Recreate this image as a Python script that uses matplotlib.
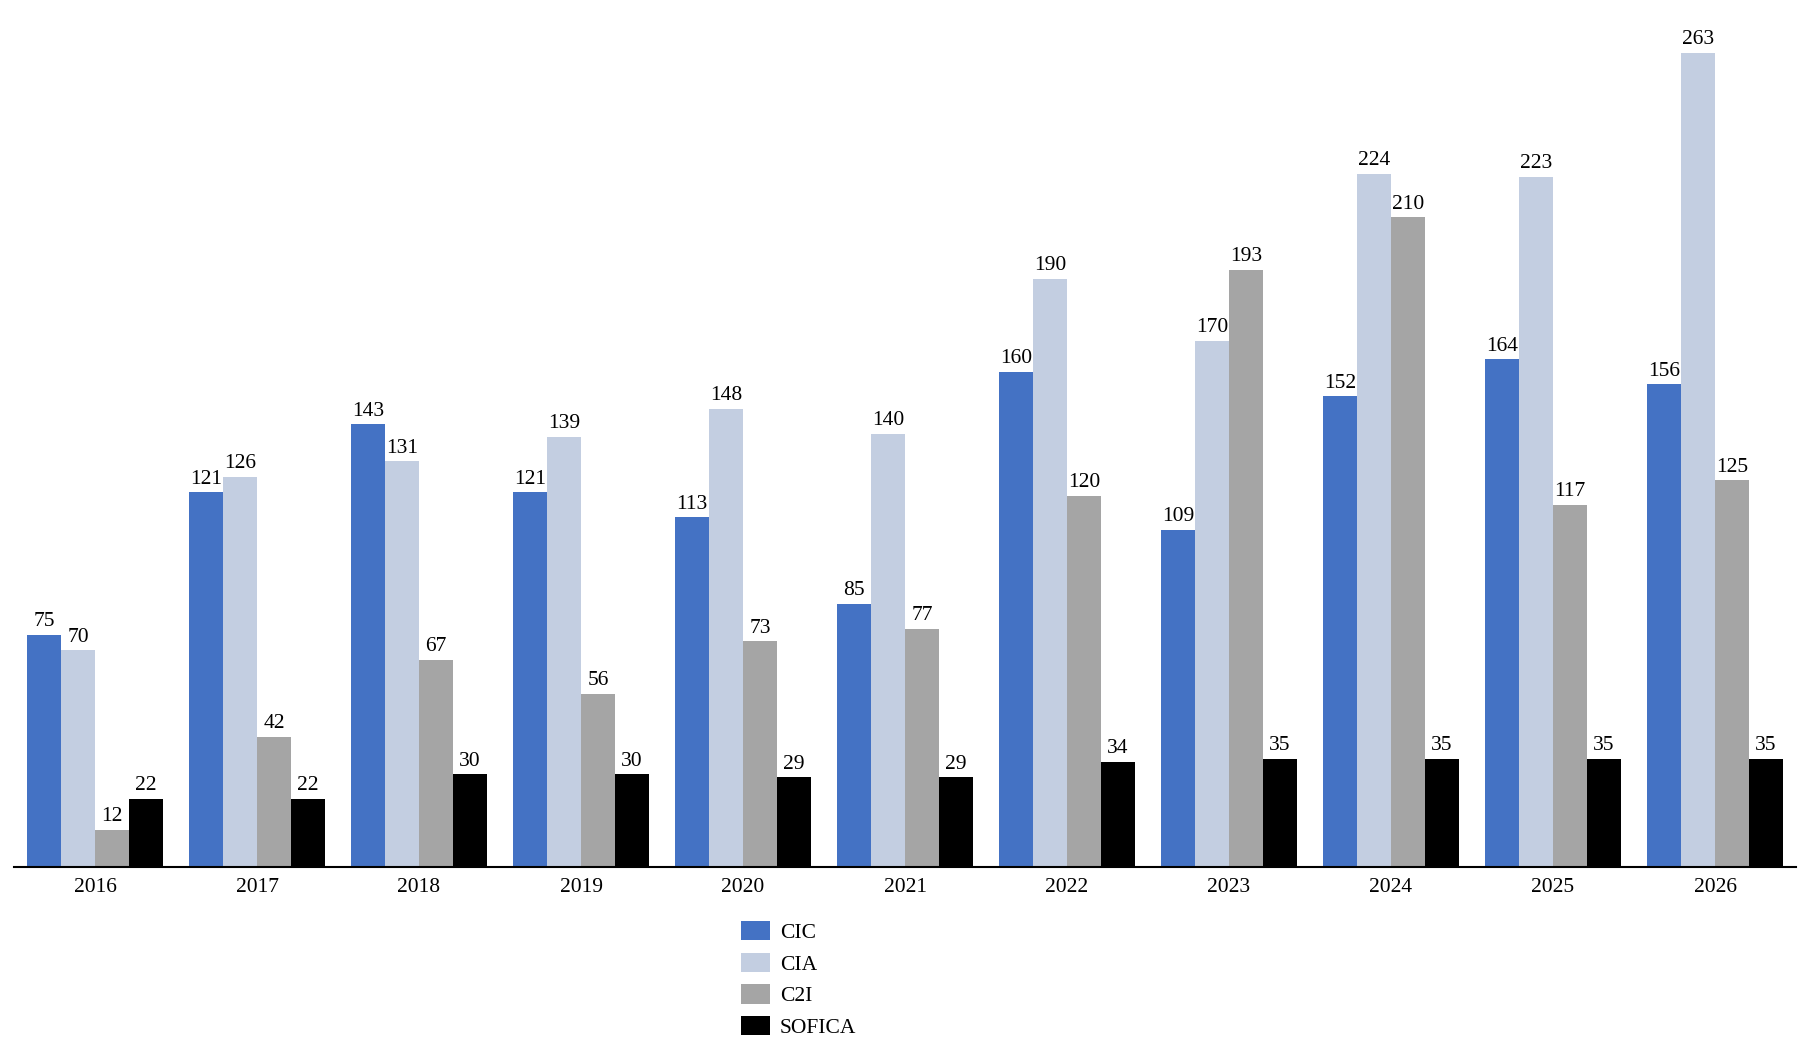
import matplotlib
matplotlib.use("Agg")
import matplotlib.pyplot as plt
import numpy as np

years = ["2016", "2017", "2018", "2019", "2020", "2021", "2022", "2023", "2024", "2025", "2026"]
series_names = ["CIC", "CIA", "C2I", "SOFICA"]
cic = [75, 121, 143, 121, 113, 85, 160, 109, 152, 164, 156]
cia = [70, 126, 131, 139, 148, 140, 190, 170, 224, 223, 263]
c2i = [12, 42, 67, 56, 73, 77, 120, 193, 210, 117, 125]
sofica = [22, 22, 30, 30, 29, 29, 34, 35, 35, 35, 35]
colors = ["#4472C4", "#C3CEE1", "#A5A5A5", "#000000"]

plt.rcParams['font.family'] = ['Liberation Serif', 'DejaVu Serif']
FS = 15.5

fig = plt.figure(figsize=(18.10, 10.52), dpi=100)
ax = fig.add_axes([14/1810, 0.1759, 1782/1810, 0.8238])

x = np.arange(len(years))
w = 0.21
data = [cic, cia, c2i, sofica]
for i, (name, vals, c) in enumerate(zip(series_names, data, colors)):
    pos = x + (i - 1.5) * w
    bars = ax.bar(pos, vals, width=w, color=c, label=name)
    for b, v in zip(bars, vals):
        ax.annotate(str(v), (b.get_x() + b.get_width() / 2, v), xytext=(0, 2.5),
                    textcoords="offset points", ha="center", va="bottom", fontsize=FS)

ax.set_xlim(-0.5, len(years) - 0.5)
ax.set_ylim(0, 280)
ax.set_xticks(x)
ax.set_xticklabels(years, fontsize=FS)
ax.tick_params(axis='x', length=0, pad=8)
ax.set_yticks([])
for s in ["top", "right", "left"]:
    ax.spines[s].set_visible(False)
ax.spines["bottom"].set_linewidth(1.5)

fig.legend(loc="upper left", bbox_to_anchor=(741/1810, 0.1245), frameon=False,
           fontsize=FS, handlelength=1.35, handleheight=1.0, labelspacing=0.45,
           handletextpad=0.45, borderpad=0, borderaxespad=0)

fig.savefig("out.png", dpi=100)
